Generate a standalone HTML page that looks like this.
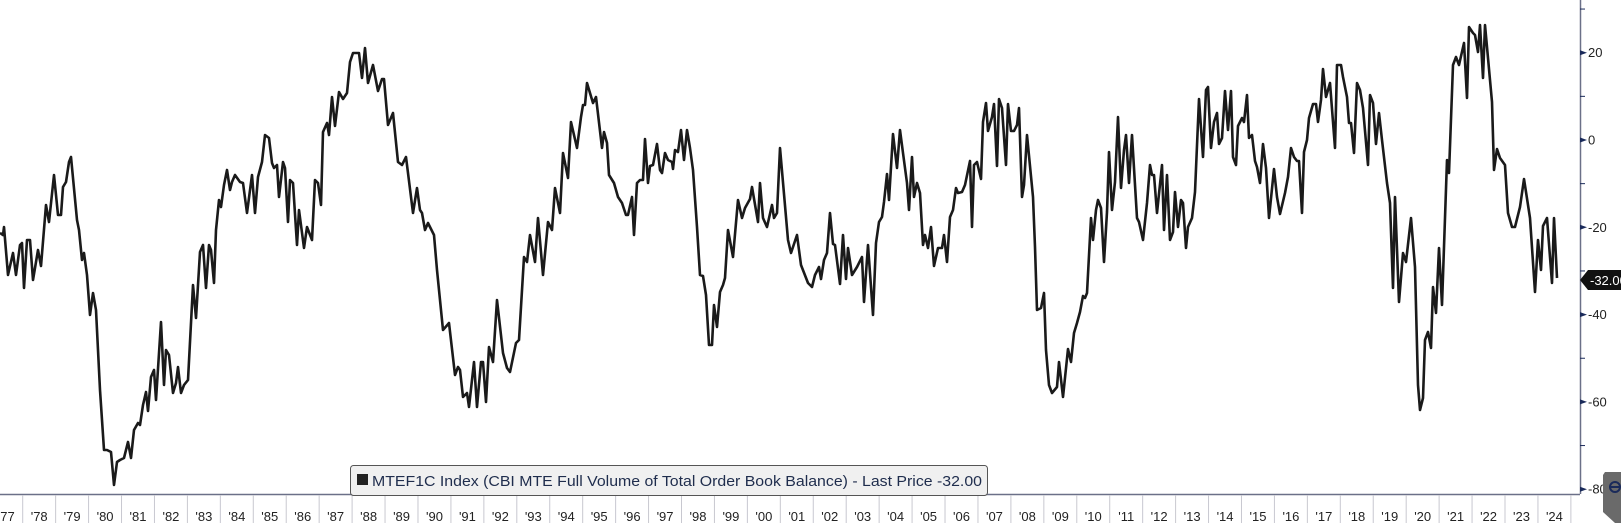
<!DOCTYPE html>
<html><head><meta charset="utf-8"><style>
html,body{margin:0;padding:0;background:#fff;}
svg{display:block;font-family:"Liberation Sans",sans-serif;}
</style></head><body>
<svg width="1621" height="523" viewBox="0 0 1621 523" xmlns="http://www.w3.org/2000/svg">
<rect width="1621" height="523" fill="#fff"/>
<!-- bottom axis -->
<line x1="0" y1="494.5" x2="1580" y2="494.5" stroke="#6b7088" stroke-width="1.5"/>
<g id="sep" stroke="#c8c8d0" stroke-width="1"></g>
<g id="yl" font-size="13" fill="#222" text-anchor="middle"></g>
<!-- right axis -->
<line x1="1580.5" y1="0" x2="1580.5" y2="494" stroke="#6b7088" stroke-width="1.5"/>
<g id="yt" font-size="13" fill="#222"></g>
<polyline fill="none" stroke="#1a1a1a" stroke-width="2.6" stroke-linejoin="round" points="
0,233 3,235 4,227 8,275 13,253 16,275 20,245 22,243 24,288 27,240 30,240 33,280 38,250 41,266 46,205 49,222 54,175 58,215 61,215 63,187 66,182 69,162 71,157 77,220 79,230 82,260 84,253 87,275 90,315 93,293 96,310 100,390 104,450 107,450 111,452 114,485 117,462 120,460 124,458 128,442 131,458 134,430 138,423 140,425 143,405 146,392 148,411 151,377 154,370 156,400 161,322 164,385 166,350 169,355 173,393 176,383 178,367 181,393 184,385 188,380 193,285 196,318 200,252 203,245 206,288 209,245 211,250 214,283 216,230 219,200 221,207 224,185 227,170 230,190
232,182 235,175 240,182 243,183 247,213 252,175 255,213 258,177 262,162 265,135 269,138 272,163 274,168 277,165 279,197 283,162 285,168 288,222 290,180 293,183 297,245 299,210 304,248 307,227 312,240 315,180 318,183 321,205 323,132 327,123 329,135 332,97 335,126 339,92 343,99 347,93 350,62 353,53 359,53 362,78 365,48 368,83 373,65 378,91 382,79 384,79 388,125 393,113 398,162 402,165 406,157 413,213 417,188 420,210 422,213 425,230 428,223 434,235 437,270 443,330 449,323 455,375 458,367 460,370
463,397 467,393 469,407 474,362 477,407 481,362 483,362 486,402 489,347 493,362 497,300 503,353 507,368 510,372 516,343 519,340 524,257 527,262 530,235 535,262 538,218 543,275 548,222 552,230 555,188 560,213 563,153 568,178 571,122 577,148 581,117 583,105 585,105 587,83 593,103 596,97 602,148 604,132 607,143 609,175 614,183 618,197 622,203 626,215 628,215 632,197 634,235 637,183 640,180 643,180 645,139 648,183 650,166 653,165 657,144 660,170 662,173 665,153 668,160 672,162 673,169 675,150 678,152 681,130 684,160 687,130 690,148
693,170 697,227 700,275 703,276 706,295 709,345 712,345 714,305 717,327 720,292 723,285 725,278 728,230 733,257 738,200 742,218 745,208 750,199 752,187 758,222 760,183 763,218 767,227 772,205 774,218 777,213 780,148 788,240 791,253 797,235 801,265 808,283 812,287 815,275 819,267 821,279 824,260 827,253 830,213 833,244 835,245 840,284 843,235 846,279 848,248 852,275 857,267 862,257 864,302 868,245 873,315 876,243 879,222 882,217 884,202 887,174 889,200 893,134 897,168 900,130 903,153 907,183 909,210 912,157 914,197 917,183 920,193
923,245 925,235 928,248 931,227 934,266 938,248 942,248 944,235 947,262 950,217 953,210 956,188 958,193 962,192 965,185 970,161 972,227 974,165 977,162 981,179 983,122 986,103 988,131 992,117 994,104 997,166 999,99 1002,108 1006,165 1008,104 1011,131 1014,131 1017,125 1019,108 1022,197 1024,185 1027,135 1033,197 1035,247 1037,310 1041,308 1044,293 1046,350 1049,385 1052,393 1057,387 1059,362 1063,397 1068,349 1071,362 1074,333 1077,323 1080,312 1083,296 1085,298 1087,293 1091,218 1093,240 1096,210 1098,200 1101,208 1104,262 1107,212 1109,152 1112,210 1115,182 1118,117 1121,188 1124,150 1126,135 1129,183 1132,135 1137,218 1139,222 1143,240 1147,203 1150,165
1152,175 1154,175 1157,213 1162,165 1164,230 1167,175 1170,240 1173,232 1175,192 1178,227 1181,200 1183,203 1186,248 1188,227 1192,218 1195,192 1199,99 1203,157 1206,90 1208,87 1211,148 1214,122 1217,113 1219,144 1222,138 1225,91 1228,130 1231,91 1233,157 1236,165 1238,126 1242,118 1244,122 1247,95 1249,138 1252,135 1255,161 1257,167 1260,183 1263,144 1266,168 1269,218 1274,169 1277,197 1280,214 1285,193 1288,177 1291,148 1294,157 1297,161 1299,161 1302,213 1304,152 1307,140 1309,118 1313,104 1316,104 1318,122 1321,100 1323,69 1326,97 1330,83 1335,148 1337,65 1341,65 1343,77 1347,97 1349,123 1351,123 1354,153 1357,83 1360,90 1363,108 1368,165 1370,95 1373,103 1376,144 1379,113 1382,140 1387,183 1390,203 1393,288 1395,197 1399,302
1403,253 1406,262 1411,218 1415,267 1418,385 1420,410 1423,398 1425,340 1428,332 1431,348 1433,287 1436,313 1439,248 1442,305 1447,160 1449,173 1453,65 1456,57 1459,65 1464,43 1467,98 1469,27 1473,33 1475,35 1478,52 1480,25 1483,78 1485,25 1492,102 1494,170 1497,149 1500,158 1505,165 1508,213 1512,227 1515,227 1520,207 1524,179 1530,218 1535,292 1538,240 1541,270 1543,226 1547,218 1552,283 1554,218 1557,278"/>
<!-- last price tag -->
<polygon points="1580,280 1588,270 1621,270 1621,290 1588,290" fill="#111"/>
<text x="1590" y="285" font-size="13" fill="#fff">-32.00</text>
<!-- legend -->
<rect x="350.5" y="465.5" width="637" height="30" rx="3" fill="#f0f0f0" stroke="#555" stroke-width="1"/>
<rect x="357" y="474" width="11" height="11" fill="#222"/>
<text x="372" y="486" font-size="15" fill="#1f2d4d" textLength="610" lengthAdjust="spacingAndGlyphs">MTEF1C Index (CBI MTE Full Volume of Total Order Book Balance) - Last Price -32.00</text>
<!-- corner widget -->
<polygon points="1605,472 1621,472 1621,523 1615,523 1603,512 1603,475" fill="#6a6a6a"/>
<circle cx="1615" cy="487" r="5" fill="none" stroke="#1a2a5a" stroke-width="2"/>
<line x1="1611" y1="487" x2="1619" y2="487" stroke="#1a2a5a" stroke-width="2"/>
</svg>
<script>
(function(){
var ns="http://www.w3.org/2000/svg";
var sep=document.getElementById('sep'),yl=document.getElementById('yl'),yt=document.getElementById('yt');
function el(t,a,p){var e=document.createElementNS(ns,t);for(var k in a)e.setAttribute(k,a[k]);p.appendChild(e);return e;}
for(var y=1977;y<=2025;y++){
  var x=22.7+(y-1978)*32.94;
  if(y>1977) el('line',{x1:x,y1:495,x2:x,y2:523},sep);
  if(y<=2024){var t=el('text',{x:x+16.5,y:521},yl);t.textContent="'"+String(y).slice(2);}
}
for(var v=30;v>=-80;v-=10){
  var yy=140-v*4.365;
  if(v%20===0){
    el('polygon',{points:(1580)+','+(yy-2.5)+' '+(1587)+','+yy+' '+1580+','+(yy+2.5)},yt).setAttribute('fill','#1a2a5a');
    var t=el('text',{x:1588,y:yy+4.5},yt);t.textContent=String(v);
  } else {
    el('line',{x1:1580,y1:yy,x2:1585,y2:yy,stroke:'#1a2a5a','stroke-width':1},yt);
  }
}
})();
</script>
</body></html>
